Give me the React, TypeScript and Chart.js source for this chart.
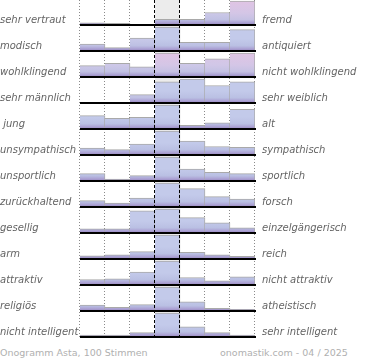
import React, { useEffect, useRef } from "react";
import { Chart, registerables } from "chart.js";

Chart.register(...registerables);

// ---- data ----
const columns = ["1", "2", "3", "4", "5", "6", "7"];
const leftLabels = [
  "sehr vertraut", "modisch", "wohlklingend", "sehr männlich", " jung",
  "unsympathisch", "unsportlich", "zurückhaltend", "gesellig", "arm",
  "attraktiv", "religiös", "nicht intelligent",
];
const rightLabels = [
  "fremd", "antiquiert", "nicht wohlklingend", "sehr weiblich", "alt",
  "sympathisch", "sportlich", "forsch", "einzelgängerisch", "reich",
  "nicht attraktiv", "atheistisch", "sehr intelligent",
];
const vertrautFremd = [4, 3, 1, 11, 11, 24, 46];
const modischAntiquiert = [8, 4, 15, 28, 10, 10, 25];
const wohlklingend = [10, 12, 9, 21, 12, 16, 21];
const maennlichWeiblich = [0, 0, 9, 23, 26, 19, 23];
const jungAlt = [15, 12, 13, 27, 4, 7, 22];
const sympathisch = [9, 7, 14, 31, 18, 11, 10];
const sportlich = [11, 3, 8, 36, 18, 13, 11];
const zurueckhaltendForsch = [8, 5, 11, 30, 23, 13, 10];
const geselligEinzelgaenger = [5, 5, 26, 28, 18, 12, 6];
const armReich = [6, 8, 14, 46, 13, 8, 5];
const attraktiv = [8, 9, 19, 35, 11, 6, 12];
const religioesAtheistisch = [11, 7, 12, 45, 17, 5, 3];
const intelligent = [4, 4, 9, 49, 21, 9, 4];
const votes = [
  vertrautFremd, modischAntiquiert, wohlklingend, maennlichWeiblich, jungAlt,
  sympathisch, sportlich, zurueckhaltendForsch, geselligEinzelgaenger, armReich,
  attraktiv, religioesAtheistisch, intelligent,
];
const footerLeft = "Onogramm Asta, 100 Stimmen";
const footerRight = "onomastik.com - 04 / 2025";

// ---- style ----
const pinkTint = [
  [0.5, 0.5, 0.5, 0.2, 0.2, 0.5, 1],
  [0.5, 0.5, 0.3, 0, 0.2, 0.2, 0],
  [0.6, 0.6, 0.6, 1, 0.6, 0.8, 1],
  [0, 0, 0.5, 0, 0, 0, 0],
];
const ROW_PX = 26;
const BASE_PX = 25;
const FULL_PX = 24;
const LABEL_POS = 0.8;
const BLUE = "#c3caea";
const BLUE2 = "#bac0e3";
const PINK = "#e0c4e4";
const PURPLE = "#9686bf";
const FONT = "'DejaVu Sans', sans-serif";

const hex = (h: string) => [1, 3, 5].map((i) => parseInt(h.slice(i, i + 2), 16));
const mix = (a: string, b: string, t: number) => {
  const A = hex(a), B = hex(b);
  return `rgb(${A.map((v, i) => Math.round(v + (B[i] - v) * t)).join(",")})`;
};

export default function App() {
  const ref = useRef<HTMLCanvasElement>(null);

  useEffect(() => {
    document.body.style.margin = "0";
    const rows = votes.length;
    const base = (k: number) => k + BASE_PX / ROW_PX;

    const datasets = votes.map((row, k) => {
      const max = Math.max(...row);
      return {
        data: row.map((v) => [base(k) - (FULL_PX / ROW_PX) * (v / max), base(k)]),
        backgroundColor: (c: any) => {
          const tint = (pinkTint[k] || [])[c.dataIndex] || 0;
          const chart = c.chart;
          if (!chart.chartArea) return BLUE;
          const y = chart.scales.y;
          const top = y.getPixelForValue(k + 1 / ROW_PX);
          const bot = y.getPixelForValue(base(k));
          const g = chart.ctx.createLinearGradient(0, top, 0, bot);
          g.addColorStop(0, mix(BLUE, PINK, tint));
          g.addColorStop(0.5, mix(BLUE, PINK, tint * 0.6));
          g.addColorStop(0.78, mix(BLUE2, PINK, tint * 0.3));
          g.addColorStop(0.9, "#aca3d4");
          g.addColorStop(1, PURPLE);
          return g;
        },
        borderColor: "#a9a9a9",
        borderWidth: (c: any) =>
          row[c.dataIndex] > 0 ? { top: 1, right: 1, bottom: 0, left: 0 } : 0,
        borderSkipped: false,
        grouped: false,
        categoryPercentage: 1,
        barPercentage: 1,
      };
    });

    const edge = (a: any, i: number) => a.left + (i * (a.right - a.left)) / columns.length;

    const decor = {
      id: "decor",
      beforeDatasetsDraw(chart: any) {
        const { ctx, chartArea: a } = chart;
        ctx.save();
        ctx.fillStyle = "#ececec";
        ctx.fillRect(edge(a, 3), a.top, edge(a, 4) - edge(a, 3), a.bottom - a.top);
        ctx.strokeStyle = "#8a8a8a";
        ctx.lineWidth = 1;
        ctx.setLineDash([1, 2]);
        [0, 1, 2, 5, 6, 7].forEach((i) => {
          const x = Math.round(edge(a, i)) - 0.5;
          ctx.beginPath();
          ctx.moveTo(x, a.top);
          ctx.lineTo(x, a.bottom);
          ctx.stroke();
        });
        ctx.restore();
      },
      afterDatasetsDraw(chart: any) {
        const { ctx, chartArea: a, scales } = chart;
        ctx.save();
        ctx.strokeStyle = "#000";
        ctx.lineWidth = 1;
        ctx.setLineDash([3, 2]);
        [3, 4].forEach((i) => {
          const x = Math.round(edge(a, i)) - 0.5;
          ctx.beginPath();
          ctx.moveTo(x, a.top);
          ctx.lineTo(x, a.bottom);
          ctx.stroke();
        });
        ctx.setLineDash([]);
        ctx.lineWidth = 2;
        votes.forEach((_, k) => {
          const yy = Math.round(scales.y.getPixelForValue(base(k)));
          ctx.beginPath();
          ctx.moveTo(a.left, yy);
          ctx.lineTo(a.right + 1, yy);
          ctx.stroke();
        });
        ctx.restore();
      },
    };

    const tickFont = { family: FONT, size: 10, style: "italic" as const };
    const rowTicks = (s: any) => {
      s.ticks = votes.map((_, k) => ({ value: k + LABEL_POS }));
    };
    const fitTo = (w: number) => (s: any) => {
      s.width = w;
      s.paddingTop = 0;
      s.paddingBottom = 0;
    };

    const chart = new Chart(ref.current!, {
      type: "bar",
      data: { labels: columns, datasets: datasets as any },
      options: {
        animation: false,
        responsive: false,
        maintainAspectRatio: false,
        layout: { padding: 0 },
        plugins: { legend: { display: false }, tooltip: { enabled: false } },
        scales: {
          x: { type: "category", display: false, offset: true, grid: { display: false } },
          y: {
            type: "linear",
            position: "left",
            min: 0,
            max: rows,
            reverse: true,
            grid: { display: false, drawTicks: false },
            border: { display: false },
            afterBuildTicks: rowTicks,
            afterFit: fitTo(80),
            ticks: {
              autoSkip: false,
              crossAlign: "far",
              padding: 0,
              font: tickFont,
              color: "#646464",
              callback: (_v: any, i: number) => leftLabels[i],
            },
          },
          y2: {
            type: "linear",
            position: "right",
            min: 0,
            max: rows,
            reverse: true,
            grid: { display: false, drawTicks: false },
            border: { display: false },
            afterBuildTicks: rowTicks,
            afterFit: fitTo(115),
            ticks: {
              autoSkip: false,
              crossAlign: "near",
              padding: 7,
              font: tickFont,
              color: "#646464",
              callback: (_v: any, i: number) => rightLabels[i],
            },
          },
        },
      },
      plugins: [decor],
    });
    return () => chart.destroy();
  }, []);

  const footStyle: React.CSSProperties = {
    position: "absolute",
    top: 346,
    fontFamily: FONT,
    fontSize: 9.5,
    lineHeight: "13px",
    color: "#b0b0b0",
    whiteSpace: "nowrap",
  };

  return (
    <div style={{ position: "absolute", left: 0, top: 0, width: 370, height: 360 }}>
      <canvas ref={ref} width={370} height={338} style={{ display: "block" }} />
      <div style={{ ...footStyle, left: 0 }}>{footerLeft}</div>
      <div style={{ ...footStyle, left: 220 }}>{footerRight}</div>
    </div>
  );
}
